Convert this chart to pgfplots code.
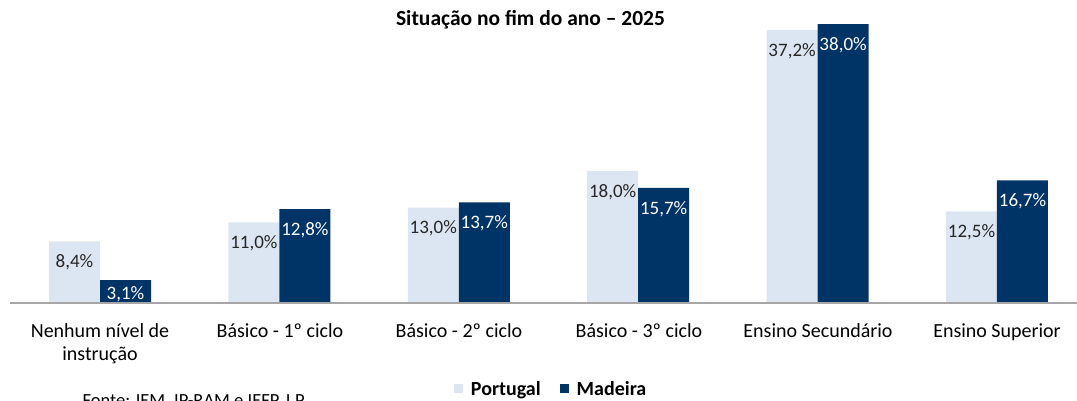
\documentclass[border=0pt]{standalone}
\usepackage{pgfplots}
\pgfplotsset{compat=1.18}
\usepackage{fontspec}
\setmainfont{Carlito}
\definecolor{pt}{HTML}{DCE6F2}
\definecolor{ma}{HTML}{003366}
\definecolor{axgray}{HTML}{A6A6A6}
\definecolor{txt}{HTML}{262626}
\begin{document}
\begin{tikzpicture}[x=1pt,y=1pt]
\path[use as bounding box] (0,0) rectangle (1077,400);
\begin{axis}[
  at={(10.3pt,97pt)}, anchor=south west,
  scale only axis, width=1066.7pt, height=293.6pt,
  xmin=-0.5, xmax=5.446, ymin=0, ymax=40,
  axis lines=none,
  ybar, bar width=51pt,
  xtick=data, ytick=\empty,
  /pgf/number format/assume math mode=true,
  xticklabels={},
  clip=false,
  legend style={draw=none, at={(0.507,-0.292)}, anchor=center, legend columns=2,
    font=\fontsize{20}{22}\selectfont\bfseries, /tikz/every even column/.append style={column sep=17pt},
    inner sep=0pt},
  legend image code/.code={\fill[#1] (0pt,-4.5pt) rectangle (9pt,4.5pt); \path (15pt,0pt);},
  nodes near coords={\pgfmathprintnumber[fixed,fixed zerofill,precision=1,use comma]{\pgfplotspointmeta}\%},
  visualization depends on={y \as \yv},
  every node near coord/.append style={font=\fontsize{19}{21}\selectfont, anchor=center,
     yshift={ifthenelse(\yv<5,-14,-21)*1pt}},
]
\addplot[fill=pt, draw=none, bar shift=-25.5pt, nodes near coords style={text=txt}]
  coordinates {(0,8.4) (1,11.0) (2,13.0) (3,18.0) (4,37.2) (5,12.5)};
\addplot[fill=ma, draw=none, bar shift=25.5pt, nodes near coords style={text=white}]
  coordinates {(0,3.1) (1,12.8) (2,13.7) (3,15.7) (4,38.0) (5,16.7)};
\legend{Portugal, Madeira}
\draw[axgray, line width=1.2pt] (axis cs:-0.5,0) -- (axis cs:5.446,0);
\end{axis}
\node[font=\fontsize{21.5}{24}\selectfont\bfseries] at (530.5,380) {Situação no fim do ano – 2025};
\begin{scope}[every node/.style={font=\fontsize{20}{23}\selectfont, anchor=base}]
\node at (100,63) {Nenhum nível de};
\node at (100,40) {instrução};
\node at (280,63) {Básico - 1º ciclo};
\node at (459,63) {Básico - 2º ciclo};
\node at (639,63) {Básico - 3º ciclo};
\node at (818,63) {Ensino Secundário};
\node at (997,63) {Ensino Superior};
\end{scope}
\node[font=\fontsize{18.5}{20}\selectfont, anchor=base west] at (79,-6) {Fonte: IEM, IP-RAM e IEFP, I.P.};
\end{tikzpicture}
\end{document}
